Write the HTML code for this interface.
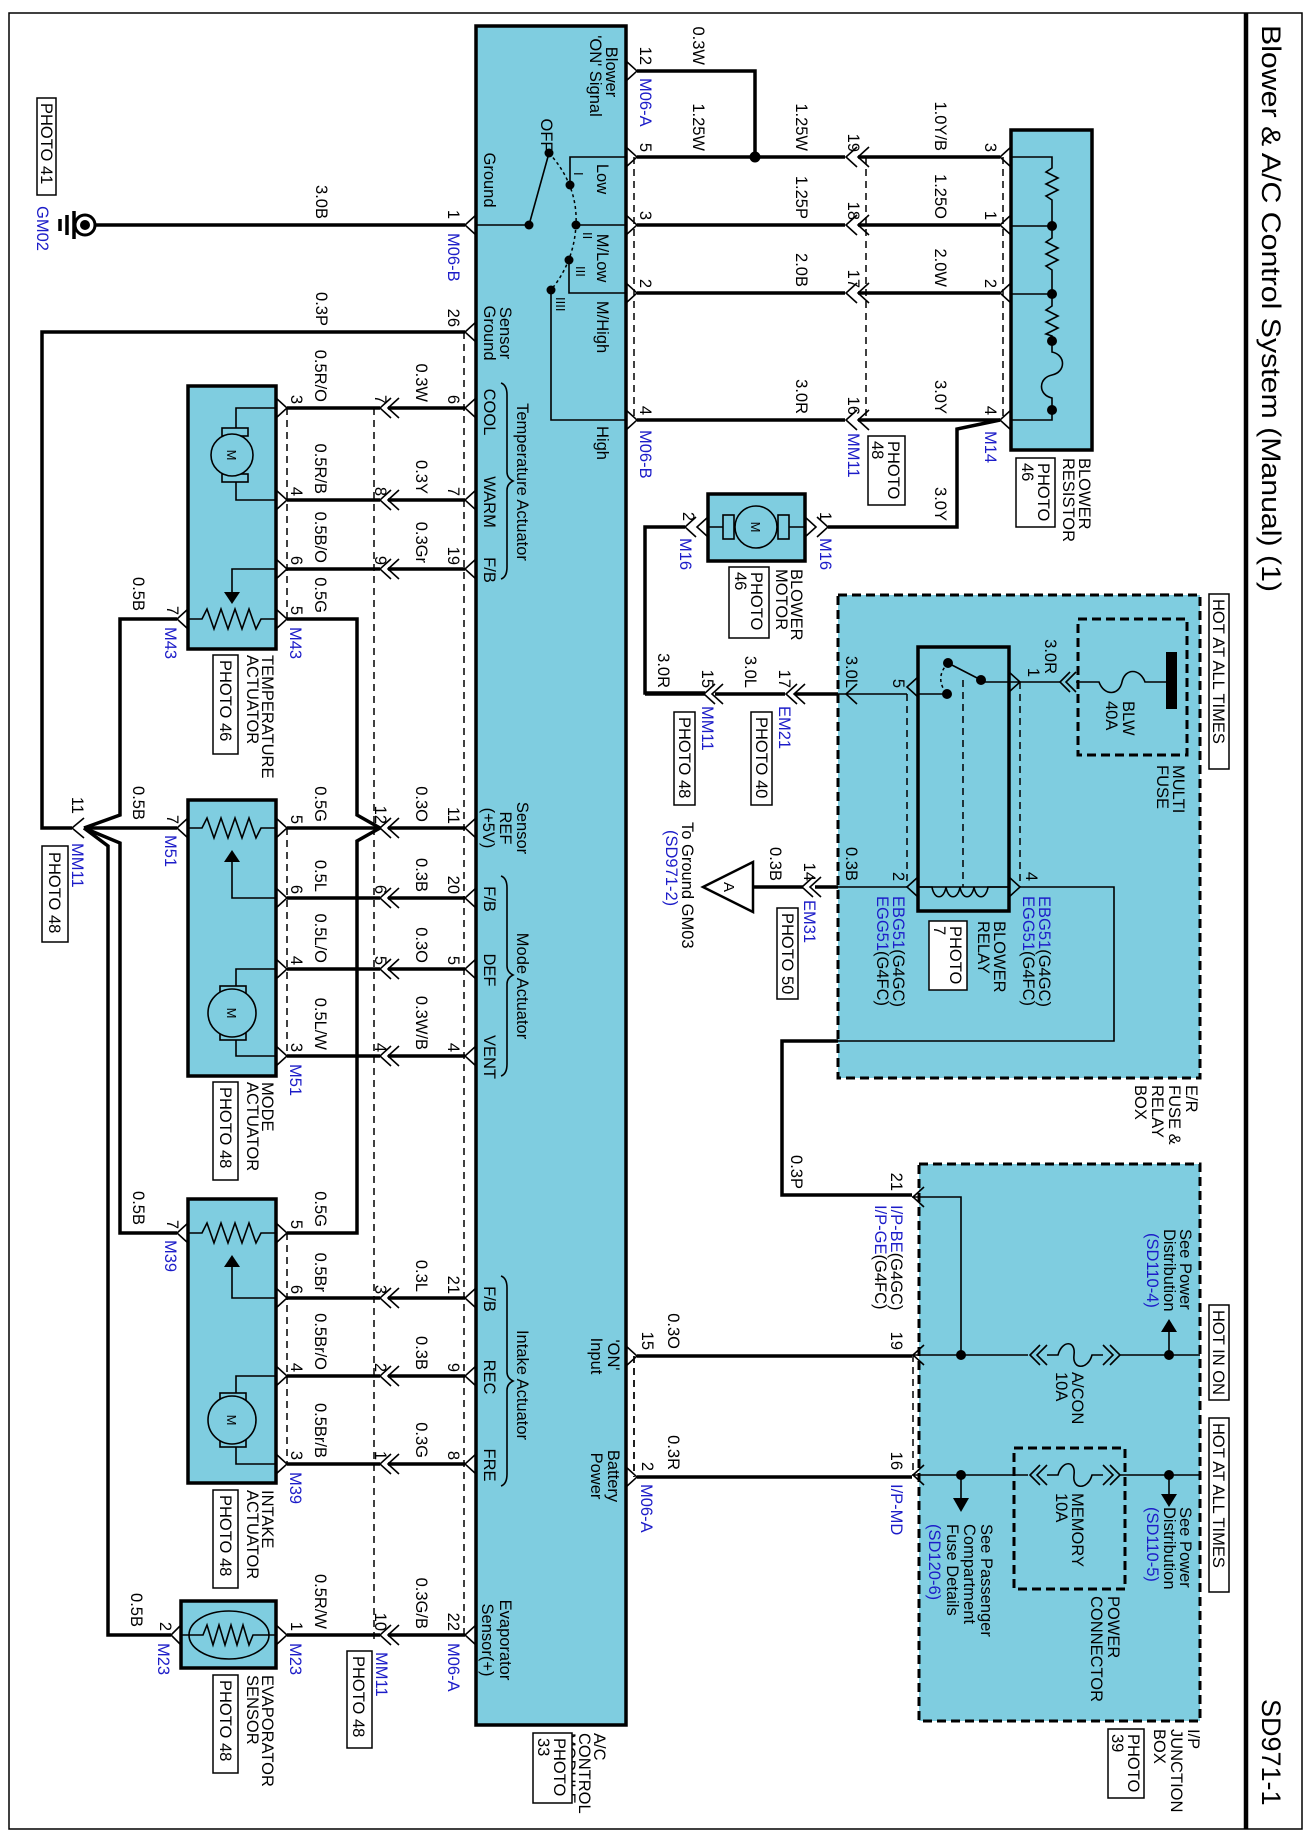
<!DOCTYPE html>
<html><head><meta charset="utf-8"><style>
html,body{margin:0;padding:0;background:#fff}
svg{display:block}
.w{stroke:#000;stroke-width:3.5;fill:none}
.n{stroke:#000;stroke-width:1.6;fill:none}
.d{stroke:#000;stroke-width:1.5;fill:none;stroke-dasharray:7 5}
.dt{stroke:#000;stroke-width:1.5;fill:none;stroke-dasharray:3 3}
.bx{fill:#7fcde0;stroke:#000;stroke-width:3.5}
.db{fill:#7fcde0;stroke:#000;stroke-width:3;stroke-dasharray:9 5}
.dd{fill:none;stroke:#000;stroke-width:3;stroke-dasharray:9 5}
.pb{fill:#fff;stroke:#000;stroke-width:1.5}
.pn{fill:none;stroke:#000;stroke-width:1.5}
text{fill:#000}
.b{fill:#1c1cc8}
.e{text-anchor:end}
.m{text-anchor:middle}
</style></head><body>
<svg xmlns="http://www.w3.org/2000/svg" width="1312" height="1842" viewBox="0 0 1312 1842" font-family="'Liberation Sans', Arial, sans-serif" font-size="16.5">
<!-- frame -->
<rect x="9" y="13" width="1293" height="1816" fill="none" stroke="#000" stroke-width="1.5"/>
<line x1="1246" y1="13" x2="1246" y2="1829" stroke="#000" stroke-width="4.5"/>
<text font-size="27" transform="translate(1262,25)rotate(90)" textLength="567" lengthAdjust="spacingAndGlyphs">Blower &amp; A/C Control System (Manual) (1)</text>
<text font-size="27" transform="translate(1262,1699)rotate(90)">SD971-1</text>

<!-- boxes -->
<rect class="db" x="838" y="595" width="362" height="483"/>
<rect class="db" x="919" y="1164" width="281" height="557"/>
<rect class="bx" x="476" y="26" width="150" height="1699"/>
<rect class="bx" x="1011" y="130" width="81" height="320"/>
<rect class="bx" x="708" y="494" width="97" height="67"/>
<rect class="bx" x="188" y="386" width="88" height="263"/>
<rect class="bx" x="188" y="800" width="88" height="276"/>
<rect class="bx" x="188" y="1199" width="88" height="284"/>
<rect class="bx" x="181" y="1601" width="95" height="67"/>

<!-- GROUND GM02 -->
<path class="w" d="M96,225 H465"/>
<circle cx="85" cy="225" r="10" fill="none" stroke="#000" stroke-width="3"/>
<circle cx="85" cy="225" r="5"/>
<path class="w" d="M74,211 V239 M67,215 V235 M60,219 V231" stroke-width="2.5"/>
<rect class="pb" x="37" y="98" width="19" height="97"/>
<text transform="translate(41,103)rotate(90)">PHOTO 41</text>
<text class="b" transform="translate(37,206)rotate(90)">GM02</text>
<text class="e" transform="translate(316,219)rotate(90)">3.0B</text>
<text class="e" transform="translate(448,219)rotate(90)">1</text>
<text class="b" transform="translate(448,233)rotate(90)">M06-B</text>

<!-- module left chevrons -->
<g class="n">
<polyline points="476,215 465,225 476,235"/>
<polyline points="476,322 465,332 476,342"/>
<polyline points="476,398 465,408 476,418"/>
<polyline points="476,490 465,500 476,510"/>
<polyline points="476,559 465,569 476,579"/>
<polyline points="476,818 465,828 476,838"/>
<polyline points="476,888 465,898 476,908"/>
<polyline points="476,959 465,969 476,979"/>
<polyline points="476,1046 465,1056 476,1066"/>
<polyline points="476,1288 465,1298 476,1308"/>
<polyline points="476,1366 465,1376 476,1386"/>
<polyline points="476,1454 465,1464 476,1474"/>
<polyline points="476,1625 465,1635 476,1645"/>
</g>
<!-- module right chevrons -->
<g class="n">
<polyline points="626,61 637,71 626,81"/>
<polyline points="626,147 637,157 626,167"/>
<polyline points="626,215 637,225 626,235"/>
<polyline points="626,283 637,293 626,303"/>
<polyline points="626,410 637,420 626,430"/>
<polyline points="626,1346 637,1356 626,1366"/>
<polyline points="626,1467 637,1477 626,1487"/>
</g>

<!-- switch inside module -->
<path class="n" d="M476,225 H529"/>
<circle cx="529" cy="225" r="4.5"/>
<path class="n" d="M529,225 L549,153"/>
<circle cx="549" cy="153" r="4.5"/>
<path class="dt" d="M549,153 Q578,185 576,225 Q574,262 551,290"/>
<circle cx="570" cy="185" r="4.5"/><circle cx="576" cy="225" r="4.5"/><circle cx="569" cy="260" r="4.5"/><circle cx="551" cy="290" r="4.5"/>
<path class="n" d="M570,185 V157 H626 M576,225 H626 M569,260 V293 H626 M551,290 V420 H626"/>
<text font-size="13" transform="translate(574,172)rotate(90)">I</text>
<text font-size="13" transform="translate(583,232)rotate(90)">II</text>
<text font-size="13" transform="translate(576,266)rotate(90)">III</text>
<text font-size="13" transform="translate(556,297)rotate(90)">IIII</text>
<text class="m" transform="translate(606,72)rotate(90)">Blower</text>
<text class="m" transform="translate(590,76)rotate(90)">'ON' Signal</text>
<text class="m" transform="translate(541,135)rotate(90)">OFF</text>
<text class="m" transform="translate(484,180)rotate(90)">Ground</text>
<text class="m" transform="translate(597,179)rotate(90)">Low</text>
<text class="m" transform="translate(597,258)rotate(90)">M/Low</text>
<text class="m" transform="translate(597,327)rotate(90)">M/High</text>
<text class="m" transform="translate(597,443)rotate(90)">High</text>
<text class="m" transform="translate(500,333)rotate(90)">Sensor</text>
<text class="m" transform="translate(484,333)rotate(90)">Ground</text>
<text class="e" transform="translate(448,327)rotate(90)">26</text>
<text class="e" transform="translate(316,326)rotate(90)">0.3P</text>

<!-- module left labels -->
<text class="m" transform="translate(484,412)rotate(90)">COOL</text>
<text class="m" transform="translate(484,502)rotate(90)">WARM</text>
<text class="m" transform="translate(484,570)rotate(90)">F/B</text>
<text class="m" transform="translate(517,482)rotate(90)">Temperature Actuator</text>
<path class="n" d="M501,383 Q507,385 507,395 V472 Q507,478 513,481 Q507,484 507,490 V567 Q507,577 501,579"/>
<text class="m" transform="translate(517,828)rotate(90)">Sensor</text>
<text class="m" transform="translate(500,828)rotate(90)">REF</text>
<text class="m" transform="translate(483,828)rotate(90)">(+5V)</text>
<text class="m" transform="translate(484,899)rotate(90)">F/B</text>
<text class="m" transform="translate(484,970)rotate(90)">DEF</text>
<text class="m" transform="translate(484,1057)rotate(90)">VENT</text>
<text class="m" transform="translate(517,986)rotate(90)">Mode Actuator</text>
<path class="n" d="M501,876 Q507,878 507,888 V966 Q507,972 513,975 Q507,978 507,984 V1064 Q507,1074 501,1076"/>
<text class="m" transform="translate(484,1299)rotate(90)">F/B</text>
<text class="m" transform="translate(484,1377)rotate(90)">REC</text>
<text class="m" transform="translate(484,1465)rotate(90)">FRE</text>
<text class="m" transform="translate(517,1385)rotate(90)">Intake Actuator</text>
<path class="n" d="M501,1276 Q507,1278 507,1288 V1372 Q507,1378 513,1381 Q507,1384 507,1390 V1474 Q507,1484 501,1486"/>
<text class="m" transform="translate(500,1640)rotate(90)">Evaporator</text>
<text class="m" transform="translate(482,1640)rotate(90)">Sensor(+)</text>
<text class="m" transform="translate(608,1355)rotate(90)">'ON'</text>
<text class="m" transform="translate(591,1356)rotate(90)">Input</text>
<text class="m" transform="translate(608,1476)rotate(90)">Battery</text>
<text class="m" transform="translate(591,1476)rotate(90)">Power</text>
<text transform="translate(594,1733)rotate(90)">A/C</text>
<text transform="translate(579,1733)rotate(90)">CONTROL</text>
<text transform="translate(564,1733)rotate(90)">MODULE</text>
<rect class="pb" x="533" y="1733" width="39" height="70"/>
<text transform="translate(554,1738)rotate(90)">PHOTO</text>
<text transform="translate(538,1738)rotate(90)">33</text>

<!-- left side wires -->
<g class="w">
<path d="M287,408 H380 M388,408 H465"/>
<path d="M287,500 H380 M388,500 H465"/>
<path d="M287,569 H380 M388,569 H465"/>
<path d="M287,619 H357 V815 L380,828"/>
<path d="M287,828 H380 M388,828 H465"/>
<path d="M380,828 L357,841 V1233 H287"/>
<path d="M287,898 H380 M388,898 H465"/>
<path d="M287,969 H380 M388,969 H465"/>
<path d="M287,1056 H380 M388,1056 H465"/>
<path d="M287,1298 H380 M388,1298 H465"/>
<path d="M287,1376 H380 M388,1376 H465"/>
<path d="M287,1464 H380 M388,1464 H465"/>
<path d="M287,1635 H380 M388,1635 H465"/>
<path d="M465,332 H42 V828 H72"/>
<path d="M177,619 H120 V815 L84,828"/>
<path d="M177,828 H84"/>
<path d="M84,828 L120,843 V1233 H177"/>
<path d="M84,828 L108,846 V1635 H171"/>
</g>
<g class="n">
<polyline points="84,818 72,828 84,838"/>
<!-- MM11 connector chevrons -->
<polyline points="391,398 380,408 391,418"/><polyline points="399,398 388,408 399,418"/>
<polyline points="391,490 380,500 391,510"/><polyline points="399,490 388,500 399,510"/>
<polyline points="391,559 380,569 391,579"/><polyline points="399,559 388,569 399,579"/>
<polyline points="391,818 380,828 391,838"/><polyline points="399,818 388,828 399,838"/>
<polyline points="391,888 380,898 391,908"/><polyline points="399,888 388,898 399,908"/>
<polyline points="391,959 380,969 391,979"/><polyline points="399,959 388,969 399,979"/>
<polyline points="391,1046 380,1056 391,1066"/><polyline points="399,1046 388,1056 399,1066"/>
<polyline points="391,1288 380,1298 391,1308"/><polyline points="399,1288 388,1298 399,1308"/>
<polyline points="391,1366 380,1376 391,1386"/><polyline points="399,1366 388,1376 399,1386"/>
<polyline points="391,1454 380,1464 391,1474"/><polyline points="399,1454 388,1464 399,1474"/>
<polyline points="391,1625 380,1635 391,1645"/><polyline points="399,1625 388,1635 399,1645"/>
<!-- actuator right chevrons -->
<polyline points="276,398 287,408 276,418"/>
<polyline points="276,490 287,500 276,510"/>
<polyline points="276,559 287,569 276,579"/>
<polyline points="276,609 287,619 276,629"/>
<polyline points="276,818 287,828 276,838"/>
<polyline points="276,888 287,898 276,908"/>
<polyline points="276,959 287,969 276,979"/>
<polyline points="276,1046 287,1056 276,1066"/>
<polyline points="276,1223 287,1233 276,1243"/>
<polyline points="276,1288 287,1298 276,1308"/>
<polyline points="276,1366 287,1376 276,1386"/>
<polyline points="276,1454 287,1464 276,1474"/>
<polyline points="276,1625 287,1635 276,1645"/>
<!-- actuator left chevrons -->
<polyline points="188,609 177,619 188,629"/>
<polyline points="188,818 177,828 188,838"/>
<polyline points="188,1223 177,1233 188,1243"/>
<polyline points="181,1625 171,1635 181,1645"/>
</g>
<g class="d">
<path d="M464,332 V1635"/>
<path d="M374,408 V1640"/>
<path d="M287,408 V619 M287,828 V1056 M287,1233 V1464"/>
<path d="M634,157 V420 M634,1356 V1477"/>
</g>

<!-- left wire labels -->
<g>
<text class="e" transform="translate(416,402)rotate(90)">0.3W</text>
<text class="e" transform="translate(416,494)rotate(90)">0.3Y</text>
<text class="e" transform="translate(416,563)rotate(90)">0.3Gr</text>
<text class="e" transform="translate(416,822)rotate(90)">0.3O</text>
<text class="e" transform="translate(416,892)rotate(90)">0.3B</text>
<text class="e" transform="translate(416,963)rotate(90)">0.3O</text>
<text class="e" transform="translate(416,1050)rotate(90)">0.3W/B</text>
<text class="e" transform="translate(416,1292)rotate(90)">0.3L</text>
<text class="e" transform="translate(416,1370)rotate(90)">0.3B</text>
<text class="e" transform="translate(416,1458)rotate(90)">0.3G</text>
<text class="e" transform="translate(416,1629)rotate(90)">0.3G/B</text>
<text class="e" transform="translate(315,402)rotate(90)">0.5R/O</text>
<text class="e" transform="translate(315,494)rotate(90)">0.5R/B</text>
<text class="e" transform="translate(315,563)rotate(90)">0.5B/O</text>
<text class="e" transform="translate(315,613)rotate(90)">0.5G</text>
<text class="e" transform="translate(315,822)rotate(90)">0.5G</text>
<text class="e" transform="translate(315,892)rotate(90)">0.5L</text>
<text class="e" transform="translate(315,963)rotate(90)">0.5L/O</text>
<text class="e" transform="translate(315,1050)rotate(90)">0.5L/W</text>
<text class="e" transform="translate(315,1227)rotate(90)">0.5G</text>
<text class="e" transform="translate(315,1292)rotate(90)">0.5Br</text>
<text class="e" transform="translate(315,1370)rotate(90)">0.5Br/O</text>
<text class="e" transform="translate(315,1458)rotate(90)">0.5Br/B</text>
<text class="e" transform="translate(315,1629)rotate(90)">0.5R/W</text>
<text class="e" transform="translate(133,611)rotate(90)">0.5B</text>
<text class="e" transform="translate(133,820)rotate(90)">0.5B</text>
<text class="e" transform="translate(133,1225)rotate(90)">0.5B</text>
<text class="e" transform="translate(131,1627)rotate(90)">0.5B</text>
<!-- pin numbers -->
<text class="e" transform="translate(448,404)rotate(90)">6</text>
<text class="e" transform="translate(448,496)rotate(90)">7</text>
<text class="e" transform="translate(448,565)rotate(90)">19</text>
<text class="e" transform="translate(448,824)rotate(90)">11</text>
<text class="e" transform="translate(448,894)rotate(90)">20</text>
<text class="e" transform="translate(448,965)rotate(90)">5</text>
<text class="e" transform="translate(448,1052)rotate(90)">4</text>
<text class="e" transform="translate(448,1294)rotate(90)">21</text>
<text class="e" transform="translate(448,1372)rotate(90)">9</text>
<text class="e" transform="translate(448,1460)rotate(90)">8</text>
<text class="e" transform="translate(448,1631)rotate(90)">22</text>
<text class="e" transform="translate(375,404)rotate(90)">7</text>
<text class="e" transform="translate(375,496)rotate(90)">8</text>
<text class="e" transform="translate(375,565)rotate(90)">9</text>
<text class="e" transform="translate(375,824)rotate(90)">12</text>
<text class="e" transform="translate(375,894)rotate(90)">6</text>
<text class="e" transform="translate(375,965)rotate(90)">5</text>
<text class="e" transform="translate(375,1052)rotate(90)">4</text>
<text class="e" transform="translate(375,1294)rotate(90)">3</text>
<text class="e" transform="translate(375,1372)rotate(90)">2</text>
<text class="e" transform="translate(375,1460)rotate(90)">1</text>
<text class="e" transform="translate(375,1631)rotate(90)">10</text>
<text class="e" transform="translate(291,404)rotate(90)">3</text>
<text class="e" transform="translate(291,496)rotate(90)">4</text>
<text class="e" transform="translate(291,565)rotate(90)">6</text>
<text class="e" transform="translate(291,615)rotate(90)">5</text>
<text class="e" transform="translate(291,824)rotate(90)">5</text>
<text class="e" transform="translate(291,894)rotate(90)">6</text>
<text class="e" transform="translate(291,965)rotate(90)">4</text>
<text class="e" transform="translate(291,1052)rotate(90)">3</text>
<text class="e" transform="translate(291,1229)rotate(90)">5</text>
<text class="e" transform="translate(291,1294)rotate(90)">6</text>
<text class="e" transform="translate(291,1372)rotate(90)">4</text>
<text class="e" transform="translate(291,1460)rotate(90)">3</text>
<text class="e" transform="translate(291,1631)rotate(90)">1</text>
<text class="e" transform="translate(167,615)rotate(90)">7</text>
<text class="e" transform="translate(167,824)rotate(90)">7</text>
<text class="e" transform="translate(167,1229)rotate(90)">7</text>
<text class="e" transform="translate(160,1631)rotate(90)">2</text>
<text class="e" transform="translate(72,814)rotate(90)">11</text>
<!-- blue connector ids -->
<text class="b" transform="translate(290,627)rotate(90)">M43</text>
<text class="b" transform="translate(165,627)rotate(90)">M43</text>
<text class="b" transform="translate(165,835)rotate(90)">M51</text>
<text class="b" transform="translate(290,1064)rotate(90)">M51</text>
<text class="b" transform="translate(165,1240)rotate(90)">M39</text>
<text class="b" transform="translate(290,1472)rotate(90)">M39</text>
<text class="b" transform="translate(158,1643)rotate(90)">M23</text>
<text class="b" transform="translate(290,1643)rotate(90)">M23</text>
<text class="b" transform="translate(376,1652)rotate(90)">MM11</text>
<text class="b" transform="translate(448,1643)rotate(90)">M06-A</text>
<text class="b" transform="translate(72,843)rotate(90)">MM11</text>
</g>
<rect class="pb" x="42" y="846" width="26" height="96"/>
<text transform="translate(49,852)rotate(90)">PHOTO 48</text>
<rect class="pb" x="347" y="1651" width="25" height="97"/>
<text transform="translate(353,1656)rotate(90)">PHOTO 48</text>

<!-- TEMP actuator internals -->
<g class="n">
<path d="M276,408 H236 V428 M276,500 H236 V482"/>
<rect x="222" y="428" width="26" height="8" fill="#7fcde0"/>
<rect x="222" y="474" width="26" height="8" fill="#7fcde0"/>
<circle cx="232" cy="455" r="21" fill="#7fcde0"/>
<path d="M188,619 H202 L207,609 L214,629 L221,609 L228,629 L235,609 L242,629 L249,609 L256,629 L261,619 H276"/>
<path d="M276,569 H232 V592"/>
</g>
<text class="m" font-size="13" transform="translate(227,455)rotate(90)">M</text>
<polygon points="224,592 240,592 232,604"/>
<text transform="translate(262,655)rotate(90)">TEMPERATURE</text>
<text transform="translate(247,655)rotate(90)">ACTUATOR</text>
<rect class="pb" x="213" y="655" width="25" height="99"/>
<text transform="translate(220,660)rotate(90)">PHOTO 46</text>

<!-- MODE actuator internals -->
<g class="n">
<path d="M188,828 H202 L207,818 L214,838 L221,818 L228,838 L235,818 L242,838 L249,818 L256,838 L261,828 H276"/>
<path d="M276,898 H232 V862"/>
<path d="M276,969 H236 V986 M276,1056 H236 V1040"/>
<rect x="220" y="986" width="26" height="8" fill="#7fcde0"/>
<rect x="220" y="1032" width="26" height="8" fill="#7fcde0"/>
<circle cx="232" cy="1013" r="24" fill="#7fcde0"/>
</g>
<polygon points="224,862 240,862 232,850"/>
<text class="m" font-size="13" transform="translate(227,1013)rotate(90)">M</text>
<text transform="translate(262,1082)rotate(90)">MODE</text>
<text transform="translate(247,1082)rotate(90)">ACTUATOR</text>
<rect class="pb" x="213" y="1082" width="25" height="98"/>
<text transform="translate(220,1087)rotate(90)">PHOTO 48</text>

<!-- INTAKE actuator internals -->
<g class="n">
<path d="M188,1233 H202 L207,1223 L214,1243 L221,1223 L228,1243 L235,1223 L242,1243 L249,1223 L256,1243 L261,1233 H276"/>
<path d="M276,1298 H232 V1267"/>
<path d="M276,1376 H236 V1393 M276,1464 H236 V1447"/>
<rect x="220" y="1393" width="26" height="8" fill="#7fcde0"/>
<rect x="220" y="1439" width="26" height="8" fill="#7fcde0"/>
<circle cx="232" cy="1420" r="24" fill="#7fcde0"/>
</g>
<polygon points="224,1267 240,1267 232,1255"/>
<text class="m" font-size="13" transform="translate(227,1420)rotate(90)">M</text>
<text transform="translate(262,1490)rotate(90)">INTAKE</text>
<text transform="translate(247,1490)rotate(90)">ACTUATOR</text>
<rect class="pb" x="213" y="1490" width="25" height="98"/>
<text transform="translate(220,1495)rotate(90)">PHOTO 48</text>

<!-- EVAP sensor -->
<g class="n">
<ellipse cx="229" cy="1635" rx="40" ry="24"/>
<path d="M181,1635 H203 L207,1625 L213,1645 L219,1625 L225,1645 L231,1625 L237,1645 L243,1625 L249,1645 L253,1635 H276"/>
</g>
<text transform="translate(262,1675)rotate(90)">EVAPORATOR</text>
<text transform="translate(247,1675)rotate(90)">SENSOR</text>
<rect class="pb" x="213" y="1675" width="25" height="98"/>
<text transform="translate(220,1680)rotate(90)">PHOTO 48</text>

<!-- RIGHT TOP: resistor wiring -->
<g class="w">
<path d="M637,71 H755 V157"/>
<path d="M637,157 H845 M637,225 H845 M637,293 H845 M637,420 H845"/>
<path d="M858,157 H1000 M858,225 H1000 M858,293 H1000 M858,420 H1000"/>
<path d="M1000,420 L957,429 V527 H828"/>
<path d="M685,527 H645 V693 H705"/>
</g>
<circle cx="755" cy="157" r="5.5"/>
<g class="n">
<polyline points="857,147 846,157 857,167"/><polyline points="869,147 858,157 869,167"/>
<polyline points="857,215 846,225 857,235"/><polyline points="869,215 858,225 869,235"/>
<polyline points="857,283 846,293 857,303"/><polyline points="869,283 858,293 869,303"/>
<polyline points="857,410 846,420 857,430"/><polyline points="869,410 858,420 869,430"/>
<polyline points="1011,147 1000,157 1011,167"/>
<polyline points="1011,215 1000,225 1011,235"/>
<polyline points="1011,283 1000,293 1011,303"/>
<polyline points="1011,410 1000,420 1011,430"/>
<polyline points="805,517 816,527 805,537"/><polyline points="817,517 828,527 817,537"/>
<polyline points="708,517 697,527 708,537"/><polyline points="696,517 685,527 696,537"/>
</g>
<g class="d"><path d="M866,157 V420 M1003,157 V420"/></g>
<!-- resistor internals -->
<g class="n">
<path d="M1011,157 H1052 V168 L1046,172 L1058,178 L1046,184 L1058,190 L1046,196 L1052,200 V226"/>
<path d="M1011,226 H1052 V238 L1046,242 L1058,248 L1046,254 L1058,260 L1046,266 L1052,270 V294"/>
<path d="M1011,294 H1052 V306 L1046,310 L1058,316 L1046,322 L1058,328 L1046,334 L1052,336 V341"/>
<path d="M1052,341 V352 C1066,355 1066,372 1052,375 C1038,378 1038,395 1052,398 V410"/>
<path d="M1011,420 H1052 V410"/>
</g>
<circle cx="1052" cy="226" r="5"/><circle cx="1052" cy="294" r="5"/><circle cx="1052" cy="341" r="5"/><circle cx="1052" cy="410" r="5"/>
<!-- motor internals -->
<g class="n">
<path d="M708,527 H805"/>
<rect x="723" y="515" width="11" height="24" fill="#7fcde0"/>
<rect x="778" y="515" width="11" height="24" fill="#7fcde0"/>
<circle cx="756" cy="527" r="21" fill="#7fcde0"/>
</g>
<text class="m" font-size="13" transform="translate(751,527)rotate(90)">M</text>
<!-- top right labels -->
<text class="e" transform="translate(693,65)rotate(90)">0.3W</text>
<text class="e" transform="translate(640,65)rotate(90)">12</text>
<text class="b" transform="translate(640,78)rotate(90)">M06-A</text>
<text class="e" transform="translate(693,151)rotate(90)">1.25W</text>
<text class="e" transform="translate(796,151)rotate(90)">1.25W</text>
<text class="e" transform="translate(935,151)rotate(90)">1.0Y/B</text>
<text class="e" transform="translate(796,219)rotate(90)">1.25P</text>
<text class="e" transform="translate(935,219)rotate(90)">1.25O</text>
<text class="e" transform="translate(796,287)rotate(90)">2.0B</text>
<text class="e" transform="translate(935,287)rotate(90)">2.0W</text>
<text class="e" transform="translate(796,414)rotate(90)">3.0R</text>
<text class="e" transform="translate(935,414)rotate(90)">3.0Y</text>
<text class="e" transform="translate(935,521)rotate(90)">3.0Y</text>
<text class="e" transform="translate(640,152)rotate(90)">5</text>
<text class="e" transform="translate(640,220)rotate(90)">3</text>
<text class="e" transform="translate(640,288)rotate(90)">2</text>
<text class="e" transform="translate(640,415)rotate(90)">4</text>
<text class="b" transform="translate(640,430)rotate(90)">M06-B</text>
<text class="e" transform="translate(848,152)rotate(90)">19</text>
<text class="e" transform="translate(848,220)rotate(90)">18</text>
<text class="e" transform="translate(848,288)rotate(90)">17</text>
<text class="e" transform="translate(848,415)rotate(90)">16</text>
<text class="b" transform="translate(848,433)rotate(90)">MM11</text>
<text class="e" transform="translate(985,152)rotate(90)">3</text>
<text class="e" transform="translate(985,220)rotate(90)">1</text>
<text class="e" transform="translate(985,288)rotate(90)">2</text>
<text class="e" transform="translate(985,415)rotate(90)">4</text>
<text class="b" transform="translate(985,431)rotate(90)">M14</text>
<rect class="pb" x="868" y="436" width="37" height="69"/>
<text transform="translate(888,441)rotate(90)">PHOTO</text>
<text transform="translate(872,441)rotate(90)">48</text>
<text transform="translate(1079,458)rotate(90)">BLOWER</text>
<text transform="translate(1063,458)rotate(90)">RESISTOR</text>
<rect class="pb" x="1016" y="458" width="39" height="69"/>
<text transform="translate(1038,463)rotate(90)">PHOTO</text>
<text transform="translate(1022,463)rotate(90)">46</text>
<text class="e" transform="translate(820,521)rotate(90)">1</text>
<text class="b" transform="translate(820,538)rotate(90)">M16</text>
<text class="e" transform="translate(683,521)rotate(90)">2</text>
<text class="b" transform="translate(680,538)rotate(90)">M16</text>
<text transform="translate(791,569)rotate(90)">BLOWER</text>
<text transform="translate(776,569)rotate(90)">MOTOR</text>
<rect class="pb" x="729" y="567" width="40" height="71"/>
<text transform="translate(751,572)rotate(90)">PHOTO</text>
<text transform="translate(735,572)rotate(90)">46</text>

<!-- E/R FUSE & RELAY BOX -->
<rect class="pb" x="1209" y="594" width="20" height="175"/>
<text transform="translate(1213,599)rotate(90)">HOT AT ALL TIMES</text>
<rect class="dd" x="1078" y="619" width="109" height="136"/>
<rect x="1166" y="652" width="11" height="57" fill="#000"/>
<text transform="translate(1173,765)rotate(90)">MULTI</text>
<text transform="translate(1157,765)rotate(90)">FUSE</text>
<g class="n">
<path d="M1166,682 H1145 C1140,668 1125,668 1122,682 C1119,696 1104,696 1099,682 H1076"/>
<polyline points="1076,672 1066,682 1076,692"/><polyline points="1070,672 1060,682 1070,692"/>
<path d="M1060,682 H1009"/>
<path d="M1009,682 H981"/>
<path d="M981,680 L948,663"/>
<path d="M947,694 H918"/>
<path d="M918,887 H1009"/>
<polyline points="918,677 907,687 918,697"/><polyline points="1009,672 1020,682 1009,692"/>
<polyline points="918,877 907,887 918,897"/><polyline points="1009,877 1020,887 1009,897"/>
<path d="M1020,887 H1114 V1041 H838"/>
<path d="M907,694 H838 M907,887 H838"/>
<path d="M912,1197 H961 V1355"/>
<path d="M912,1355 H1028"/>
<polyline points="1040,1345 1030,1355 1040,1365"/><polyline points="1047,1345 1037,1355 1047,1365"/>
<path d="M1047,1355 H1058 C1062,1340 1076,1340 1074,1355 C1072,1370 1088,1370 1092,1355 H1103"/>
<polyline points="1103,1345 1113,1355 1103,1365"/><polyline points="1110,1345 1120,1355 1110,1365"/>
<path d="M1120,1355 H1200"/>
<path d="M912,1475 H1028"/>
<polyline points="1040,1465 1030,1475 1040,1485"/><polyline points="1047,1465 1037,1475 1047,1485"/>
<path d="M1047,1475 H1058 C1062,1460 1076,1460 1074,1475 C1072,1490 1088,1490 1092,1475 H1103"/>
<polyline points="1103,1465 1113,1475 1103,1485"/><polyline points="1110,1465 1120,1475 1110,1485"/>
<path d="M1120,1475 H1200"/>
<path d="M1169,1355 V1330 M961,1475 V1500 M1169,1475 V1495"/>
<polyline points="924,1187 913,1197 924,1207"/>
<polyline points="924,1345 913,1355 924,1365"/>
<polyline points="924,1465 913,1475 924,1485"/>
<polyline points="857,684 846,694 857,704"/>
</g>
<path class="n" d="M918,887 H932 C934,900 944,900 946,887 C948,900 958,900 960,887 C962,900 972,900 974,887 C976,900 986,900 988,887 H1009"/>
<rect x="918" y="647" width="91" height="264" fill="none" stroke="#000" stroke-width="3.5"/>
<circle cx="981" cy="680" r="5"/><circle cx="948" cy="663" r="5"/><circle cx="947" cy="694" r="5"/>
<path class="dt" d="M948,663 Q934,678 947,694"/>
<g class="d"><path d="M963,680 V887 M907,694 V887 M1020,682 V887 M634,1356 V1477 M913,1355 V1475"/></g>
<circle cx="961" cy="1355" r="5"/><circle cx="1169" cy="1355" r="5"/>
<circle cx="961" cy="1475" r="5"/><circle cx="1169" cy="1475" r="5"/>
<polygon points="1161,1332 1177,1332 1169,1319"/>
<polygon points="953,1498 969,1498 961,1512"/>
<polygon points="1161,1494 1177,1494 1169,1507"/>
<g class="w">
<path d="M838,694 H795 M785,694 H715 M705,694 H645"/>
<path d="M838,887 H815 M803,887 H753"/>
<path d="M838,1041 H782 V1195 H912"/>
<path d="M637,1356 H912 M637,1477 H912"/>
</g>
<g class="n">
<polyline points="797,684 786,694 797,704"/><polyline points="805,684 794,694 805,704"/>
<polyline points="715,684 704,694 715,704"/><polyline points="723,684 712,694 723,704"/>
<polyline points="813,877 802,887 813,897"/><polyline points="821,877 810,887 821,897"/>
</g>
<polygon points="703,887 753,862 753,912" fill="#fff" stroke="#000" stroke-width="2.5"/>
<text class="m" font-size="15" transform="translate(724,887)rotate(90)">A</text>
<text transform="translate(1123,701)rotate(90)">BLW</text>
<text transform="translate(1106,701)rotate(90)">40A</text>
<text class="e" transform="translate(1045,674)rotate(90)">3.0R</text>
<text class="e" transform="translate(1028,677)rotate(90)">1</text>
<text class="e" transform="translate(893,688)rotate(90)">5</text>
<text class="e" transform="translate(893,881)rotate(90)">2</text>
<text class="e" transform="translate(1026,881)rotate(90)">4</text>
<text transform="translate(1039,896)rotate(90)"><tspan class="b">EBG51</tspan>(G4GC)</text>
<text transform="translate(1023,896)rotate(90)"><tspan class="b">EGG51</tspan>(G4FC)</text>
<text transform="translate(893,896)rotate(90)"><tspan class="b">EBG51</tspan>(G4GC)</text>
<text transform="translate(877,896)rotate(90)"><tspan class="b">EGG51</tspan>(G4FC)</text>
<text transform="translate(994,921)rotate(90)">BLOWER</text>
<text transform="translate(978,921)rotate(90)">RELAY</text>
<rect class="pb" x="929" y="921" width="38" height="69"/>
<text transform="translate(950,926)rotate(90)">PHOTO</text>
<text transform="translate(934,926)rotate(90)">7</text>
<text class="e" transform="translate(846,688)rotate(90)">3.0L</text>
<text class="e" transform="translate(846,881)rotate(90)">0.3B</text>
<text class="e" transform="translate(779,688)rotate(90)">17</text>
<text class="e" transform="translate(745,688)rotate(90)">3.0L</text>
<text class="e" transform="translate(702,688)rotate(90)">15</text>
<text class="e" transform="translate(658,688)rotate(90)">3.0R</text>
<text class="b" transform="translate(779,706)rotate(90)">EM21</text>
<rect class="pb" x="751" y="712" width="21" height="93"/>
<text transform="translate(756,717)rotate(90)">PHOTO 40</text>
<text class="b" transform="translate(702,706)rotate(90)">MM11</text>
<rect class="pb" x="674" y="712" width="21" height="93"/>
<text transform="translate(679,717)rotate(90)">PHOTO 48</text>
<text class="e" transform="translate(804,881)rotate(90)">14</text>
<text class="e" transform="translate(770,881)rotate(90)">0.3B</text>
<text class="b" transform="translate(804,900)rotate(90)">EM31</text>
<rect class="pb" x="777" y="908" width="21" height="91"/>
<text transform="translate(782,913)rotate(90)">PHOTO 50</text>
<text transform="translate(682,822)rotate(90)">To Ground GM03</text>
<text class="b" transform="translate(666,830)rotate(90)">(SD971-2)</text>
<text transform="translate(1186,1085)rotate(90)">E/R</text>
<text transform="translate(1169,1085)rotate(90)">FUSE &amp;</text>
<text transform="translate(1152,1085)rotate(90)">RELAY</text>
<text transform="translate(1135,1085)rotate(90)">BOX</text>
<text class="e" transform="translate(791,1189)rotate(90)">0.3P</text>

<!-- I/P JUNCTION BOX -->
<text class="e" transform="translate(891,1191)rotate(90)">21</text>
<text transform="translate(891,1205)rotate(90)"><tspan class="b">I/P-BE</tspan>(G4GC)</text>
<text transform="translate(875,1205)rotate(90)"><tspan class="b">I/P-GE</tspan>(G4FC)</text>
<text class="e" transform="translate(891,1350)rotate(90)">19</text>
<text class="e" transform="translate(891,1470)rotate(90)">16</text>
<text class="b" transform="translate(891,1484)rotate(90)">I/P-MD</text>
<text class="e" transform="translate(668,1349)rotate(90)">0.3O</text>
<text class="e" transform="translate(668,1470)rotate(90)">0.3R</text>
<text class="e" transform="translate(642,1350)rotate(90)">15</text>
<text class="e" transform="translate(642,1471)rotate(90)">2</text>
<text class="b" transform="translate(641,1484)rotate(90)">M06-A</text>
<text transform="translate(1180,1229)rotate(90)">See Power</text>
<text transform="translate(1164,1229)rotate(90)">Distribution</text>
<text class="b" transform="translate(1147,1233)rotate(90)">(SD110-4)</text>
<text transform="translate(1072,1372)rotate(90)">A/CON</text>
<text transform="translate(1056,1372)rotate(90)">10A</text>
<rect class="pb" x="1209" y="1305" width="20" height="95"/>
<text transform="translate(1213,1310)rotate(90)">HOT IN ON</text>
<rect class="pb" x="1209" y="1418" width="20" height="174"/>
<text transform="translate(1213,1423)rotate(90)">HOT AT ALL TIMES</text>
<rect class="dd" x="1014" y="1448" width="111" height="141" stroke-width="2.5"/>
<text transform="translate(1072,1493)rotate(90)">MEMORY</text>
<text transform="translate(1056,1493)rotate(90)">10A</text>
<text transform="translate(1108,1596)rotate(90)">POWER</text>
<text transform="translate(1091,1596)rotate(90)">CONNECTOR</text>
<text transform="translate(1180,1507)rotate(90)">See Power</text>
<text transform="translate(1164,1507)rotate(90)">Distribution</text>
<text class="b" transform="translate(1147,1507)rotate(90)">(SD110-5)</text>
<text transform="translate(981,1524)rotate(90)">See Passenger</text>
<text transform="translate(964,1524)rotate(90)">Compartment</text>
<text transform="translate(947,1524)rotate(90)">Fuse Details</text>
<text class="b" transform="translate(929,1524)rotate(90)">(SD120-6)</text>
<text transform="translate(1188,1729)rotate(90)">I/P</text>
<text transform="translate(1171,1729)rotate(90)">JUNCTION</text>
<text transform="translate(1154,1729)rotate(90)">BOX</text>
<rect class="pb" x="1108" y="1729" width="36" height="69"/>
<text transform="translate(1128,1734)rotate(90)">PHOTO</text>
<text transform="translate(1112,1734)rotate(90)">39</text>
</svg>
</body></html>
